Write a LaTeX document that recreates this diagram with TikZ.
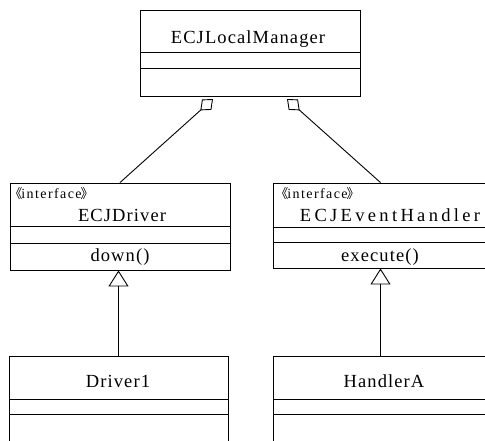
\documentclass[tikz,border=0pt]{standalone}
\usepackage{fontspec}
\setmainfont{Liberation Serif}
\newfontfamily\cjk{Noto Sans CJK SC}
\usetikzlibrary{arrows.meta}
\newcommand{\stereotxt}[1]{{\cjk\fontsize{13}{14}\selectfont 《}\kern-1pt #1\kern-1pt{\cjk\fontsize{13}{14}\selectfont 》}}
\begin{document}
\begin{tikzpicture}[x=1pt,y=-1pt,
  line width=0.9pt,
  box/.style={draw, rectangle, inner sep=0pt, line width=0.9pt},
  lbl/.style={anchor=base, inner sep=0pt, font=\fontsize{18.5}{20}\selectfont\addfontfeature{LetterSpace=6}},
  stereo/.style={anchor=base west, inner sep=0pt, font=\fontsize{14}{16}\selectfont\addfontfeature{LetterSpace=10}},
  agg/.style={{Diamond[open,length=17pt,width=14pt,line width=0.9pt]}-},
  inh/.style={-{Triangle[open,length=16pt,width=20pt,line width=0.9pt]}}]
\useasboundingbox (0,0) rectangle (485,440);
\fill[white] (0,0) rectangle (485,440);
% ECJLocalManager
\node[box, minimum width=220pt, minimum height=86pt] (mgr) at (250,53) {};
\draw (140,52) -- (360,52) (140,68) -- (360,68);
\node[lbl] (mgrt) at (248,43) {ECJLocalManager};
% ECJDriver
\node[box, minimum width=220pt, minimum height=87pt] (drv) at (120,226.5) {};
\draw (10,226) -- (230,226) (10,243) -- (230,243);
\node[stereo] (drvs) at (9,198) {\stereotxt{interface}};
\node[lbl] (drvt) at (122,221) {ECJDriver};
\node[lbl] (drvm) at (120,261) {down()};
% ECJEventHandler
\node[box, minimum width=215pt, minimum height=85pt] (evh) at (380.5,225.5) {};
\draw (273,227) -- (488,227) (273,242) -- (488,242);
\node[stereo] (evhs) at (275,198) {\stereotxt{interface}};
\node[lbl, font=\fontsize{18.5}{20}\selectfont\addfontfeature{LetterSpace=18}] (evht) at (390,221) {ECJEventHandler};
\node[lbl] (evhm) at (380,261) {execute()};
% Driver1
\node[box, minimum width=219pt, minimum height=100pt] (drv1) at (118.5,406) {};
\draw (9,399) -- (228,399) (9,414) -- (228,414);
\node[lbl] (drv1t) at (118,387) {Driver1};
% HandlerA
\node[box, minimum width=215pt, minimum height=100pt] (hda) at (380.5,406) {};
\draw (273,399) -- (488,399) (273,414) -- (488,414);
\node[lbl] (hdat) at (384,387) {HandlerA};
% aggregation
\coordinate (d1) at (213,99);
\coordinate (d2) at (287,99);
\draw[agg] (d1) -- (drv.north);
\draw[agg] (d2) -- (evh.north);
% realization
\draw[inh] (drv1.north) -- (drv1.north |- drv.south);
\draw[inh] (hda.north) -- (hda.north |- evh.south);
\end{tikzpicture}
\end{document}
